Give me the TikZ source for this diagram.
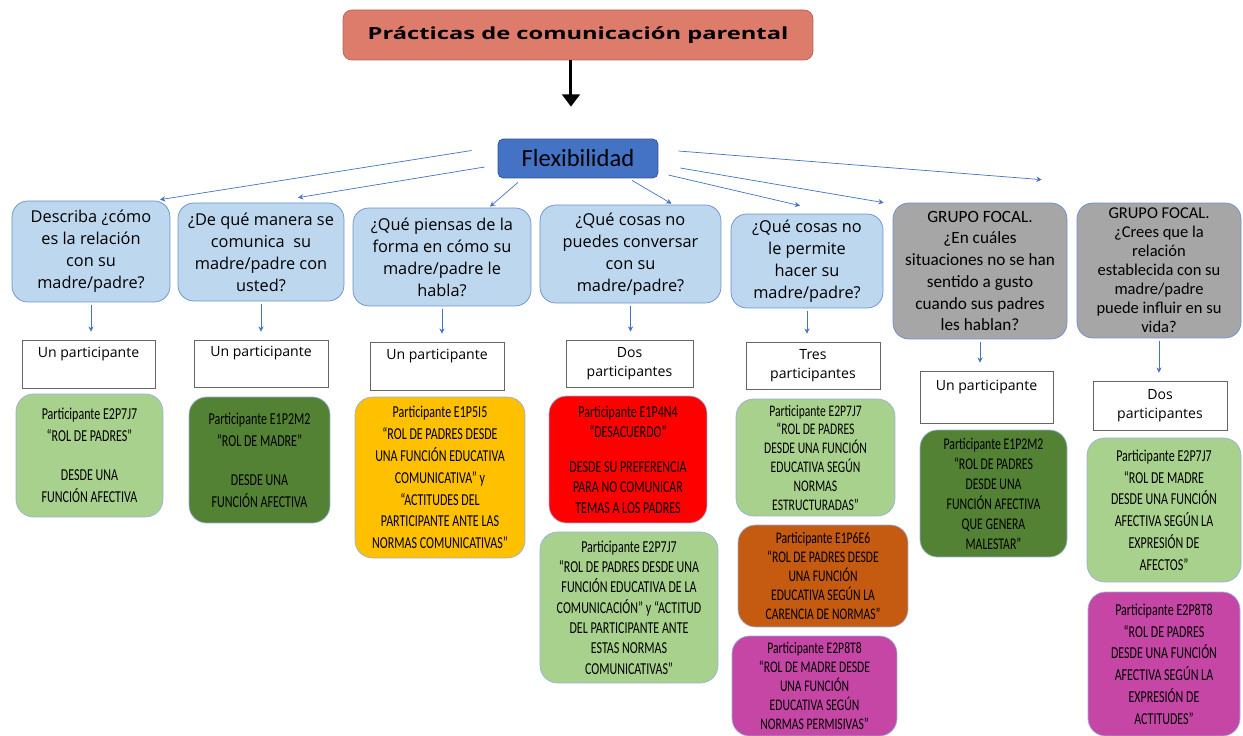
\documentclass[tikz,border=0pt]{standalone}
\usepackage{fontspec}
\setmainfont{Open Sans}
\newfontfamily\widefont[FakeStretch=1.42]{Open Sans}
\newfontfamily\calfont{Carlito}
\newfontfamily\narrowfont[FakeStretch=0.72]{Carlito}
\usepackage{tikz}
\usetikzlibrary{arrows.meta}
\usetikzlibrary{calc}

\definecolor{salmon}{HTML}{DE7C6B}
\definecolor{flexblue}{HTML}{4472C4}
\definecolor{qblue}{HTML}{BDD7EE}
\definecolor{qline}{HTML}{6A8FCB}
\definecolor{qgrey}{HTML}{A6A6A6}
\definecolor{lgreen}{HTML}{A9D18E}
\definecolor{dgreen}{HTML}{548235}
\definecolor{amber}{HTML}{FFC000}
\definecolor{rust}{HTML}{C55A11}
\definecolor{magenta2}{HTML}{C646A6}

\begin{document}
\begin{tikzpicture}[x=0.02cm, y=-0.02cm,
    title/.style = {draw=salmon!80!black, fill=salmon, rounded corners=5pt, minimum width=9.4cm, minimum height=1cm, font=\widefont\fontsize{9.5}{12}\selectfont\bfseries},
    flexbox/.style = {draw=flexblue!70!black, fill=flexblue, rounded corners=3pt, minimum width=3.2cm, minimum height=0.78cm, font=\calfont\fontsize{14}{16}\selectfont},
    question/.style = {draw=qline, fill=qblue, rounded corners=9pt, align=center, inner sep=1pt, font=\fontsize{9.3}{12.5}\selectfont},
    focal/.style = {question, fill=qgrey, font=\calfont\fontsize{9.8}{12.4}\selectfont},
    countbox/.style = {draw=black!60, fill=white, align=center, inner sep=1pt, font=\fontsize{8}{10.5}\selectfont},
    result/.style = {draw=qline!70, rounded corners=10pt, align=center, inner sep=1pt, font=\narrowfont\fontsize{9.5}{12.4}\selectfont},
    tight/.style = {font=\narrowfont\fontsize{9.2}{10.7}\selectfont},
    link/.style = {draw=flexblue, thin, -{Stealth[length=3pt,width=3pt]}},
    down/.style = {link, shorten >=0.16cm, shorten <=0.06cm},
    bigarrow/.style = {line width=1.7pt, -{Triangle[width=10pt,length=7pt]}}]

    \useasboundingbox (0,0) rectangle (1243,736);

    % top of the map
    \node [title] (top) at (578,35) {Prácticas de comunicación parental};
    \node [flexbox] (flex) at (578,158.5) {Flexibilidad};
    \draw [bigarrow, shorten >=0.64cm] ([xshift=-4pt]top.south) -- ([xshift=-4pt]flex.north);

    % questions
    \node [question, minimum width=3.16cm, minimum height=2.02cm] (q1) at (91,251.5) {Describa ¿cómo\\ es la relación\\ con su\\ madre/padre?};
    \node [question, minimum width=3.32cm, minimum height=1.96cm] (q2) at (261,252) {¿De qué manera se\\ comunica\ \ su\\ madre/padre con\\ usted?};
    \node [question, minimum width=3.56cm, minimum height=1.96cm] (q3) at (442,257) {¿Qué piensas de la\\ forma en cómo su\\ madre/padre le\\ habla?};
    \node [question, minimum width=3.62cm, minimum height=1.96cm] (q4) at (630.5,254) {¿Qué cosas no\\ puedes conversar\\ con su\\ madre/padre?};
    \node [question, minimum width=3.04cm, minimum height=1.88cm] (q5) at (807,261) {¿Qué cosas no\\ le permite\\ hacer su\\ madre/padre?};
    \node [focal, minimum width=3.48cm, minimum height=2.72cm] (q6) at (980,271) {GRUPO FOCAL.\\ ¿En cuáles\\ situaciones no se han\\ sentido a gusto\\ cuando sus padres\\ les hablan?};
    \node [focal, minimum width=3.28cm, minimum height=2.70cm, font=\calfont\fontsize{9.4}{10.8}\selectfont] (q7) at (1159,270.5) {GRUPO FOCAL.\\ ¿Crees que la\\ relación\\ establecida con su\\ madre/padre\\ puede influir en su\\ vida?};

    \draw [link] ($(flex.west)+(-26,-8)$) -- ($(q1.north)+(69,-1)$);
    \draw [link] ($(flex.west)+(-13,8.5)$) -- ($(q2.north)+(37,-5)$);
    \draw [link] ($(flex.south)+(-60,4)$) -- ($(q3.north)+(48,-1)$);
    \draw [link] ($(flex.south)+(54,2)$) -- ($(q4.north)+(41,-1)$);
    \draw [link] ($(flex.east)+(10,16.5)$) -- ($(q5.north)+(-7,-8)$);
    \draw [link] ($(flex.east)+(22,9.5)$) -- ($(q6.north west)+(-9,0)$);
    \draw [link] ($(flex.east)+(20,-7.5)$) -- ($(q7.north west)+(-35,-23)$);

    % how many took part
    \node [countbox, minimum width=2.66cm, minimum height=0.96cm] (c1) at (88.5,364) {Un participante\\ \strut};
    \node [countbox, minimum width=2.68cm, minimum height=0.94cm] (c2) at (261,363.5) {Un participante\\ \strut};
    \node [countbox, minimum width=2.68cm, minimum height=0.96cm] (c3) at (437,366) {Un participante\\ \strut};
    \node [countbox, minimum width=2.54cm, minimum height=0.94cm] (c4) at (629.5,363.5) {Dos\\ participantes};
    \node [countbox, minimum width=2.68cm, minimum height=0.94cm] (c5) at (813,365.5) {Tres\\ participantes};
    \node [countbox, minimum width=2.66cm, minimum height=1.04cm] (c6) at (986.5,397) {Un participante\\ \strut};
    \node [countbox, minimum width=2.68cm, minimum height=0.98cm] (c7) at (1160,405.5) {Dos\\ participantes};

    \foreach \i in {1,...,7}
        \draw [down] (q\i.south) -- (q\i.south |- c\i.north);

    % answers
    \node [result, fill=lgreen, minimum width=2.94cm, minimum height=2.46cm] (r1) at (89.5,455.5) {Participante E2P7J7\\ “ROL DE PADRES”\\[10pt] DESDE UNA\\ FUNCIÓN AFECTIVA};
    \node [result, fill=dgreen, minimum width=2.82cm, minimum height=2.52cm] (r2) at (259.5,460) {Participante E1P2M2\\ “ROL DE MADRE”\\[10pt] DESDE UNA\\ FUNCIÓN AFECTIVA};
    \node [result, fill=amber, minimum width=3.40cm, minimum height=3.22cm] (r3) at (440,477.5) {Participante E1P5I5\\ “ROL DE PADRES DESDE\\ UNA FUNCIÓN EDUCATIVA\\ COMUNICATIVA” y\\ “ACTITUDES DEL\\ PARTICIPANTE ANTE LAS\\ NORMAS COMUNICATIVAS”};
    \node [result, fill=red, minimum width=3.16cm, minimum height=2.54cm, font=\narrowfont\fontsize{9.5}{11.6}\selectfont] (r4) at (628,459.5) {Participante E1P4N4\\ “DESACUERDO”\\[8pt] DESDE SU PREFERENCIA\\ PARA NO COMUNICAR\\ TEMAS A LOS PADRES};
    \node [result, fill=lgreen, minimum width=3.56cm, minimum height=3.02cm, font=\narrowfont\fontsize{9.5}{11.6}\selectfont] (r5) at (629,607.5) {Participante E2P7J7\\ “ROL DE PADRES DESDE UNA\\ FUNCIÓN EDUCATIVA DE LA\\ COMUNICACIÓN” y “ACTITUD\\ DEL PARTICIPANTE ANTE\\ ESTAS NORMAS\\ COMUNICATIVAS”};
    \node [result, tight, fill=lgreen, minimum width=3.18cm, minimum height=2.34cm] (r6) at (815.5,457.5) {Participante E2P7J7\\ “ROL DE PADRES\\ DESDE UNA FUNCIÓN\\ EDUCATIVA SEGÚN\\ NORMAS\\ ESTRUCTURADAS”};
    \node [result, tight, fill=rust, minimum width=3.40cm, minimum height=2.04cm] (r7) at (823,576) {Participante E1P6E6\\ “ROL DE PADRES DESDE\\ UNA FUNCIÓN\\ EDUCATIVA SEGÚN LA\\ CARENCIA DE NORMAS”};
    \node [result, tight, fill=magenta2, minimum width=3.30cm, minimum height=2.00cm] (r8) at (814.5,686) {Participante E2P8T8\\ “ROL DE MADRE DESDE\\ UNA FUNCIÓN\\ EDUCATIVA SEGÚN\\ NORMAS PERMISIVAS”};
    \node [result, fill=dgreen, minimum width=2.94cm, minimum height=2.54cm, font=\narrowfont\fontsize{9.3}{11.4}\selectfont] (r9) at (993.5,493.5) {Participante E1P2M2\\ “ROL DE PADRES\\ DESDE UNA\\ FUNCIÓN AFECTIVA\\ QUE GENERA\\ MALESTAR”};
    \node [result, fill=lgreen, minimum width=3.08cm, minimum height=2.88cm] (r10) at (1164,510) {Participante E2P7J7\\ “ROL DE MADRE\\ DESDE UNA FUNCIÓN\\ AFECTIVA SEGÚN LA\\ EXPRESIÓN DE\\ AFECTOS”};
    \node [result, fill=magenta2, minimum width=3.04cm, minimum height=2.88cm] (r11) at (1164,664) {Participante E2P8T8\\ “ROL DE PADRES\\ DESDE UNA FUNCIÓN\\ AFECTIVA SEGÚN LA\\ EXPRESIÓN DE\\ ACTITUDES”};

\end{tikzpicture}
\end{document}
